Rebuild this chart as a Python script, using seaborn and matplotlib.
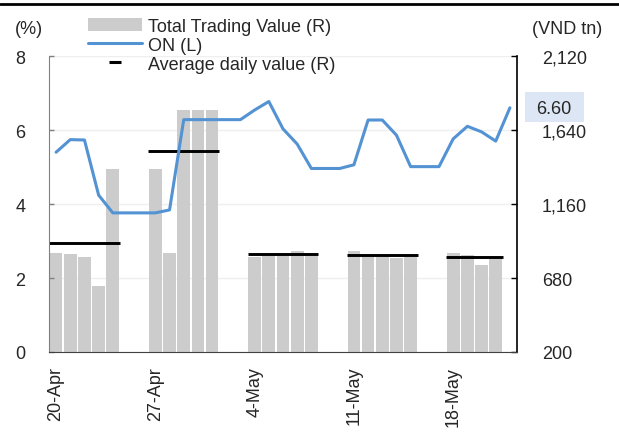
import numpy as np
import pandas as pd
import matplotlib
matplotlib.use("Agg")
import matplotlib.pyplot as plt
from matplotlib.lines import Line2D
from matplotlib.patches import Patch, Rectangle
import seaborn as sns

# ---------------- data ----------------
days = pd.date_range("2020-04-20", "2020-05-22", freq="D")
nan = np.nan
trading_value = [840, 834, 816, 628, 1387, nan, nan,
                 1387, 842, 1770, 1770, 1770, nan, nan,
                 814, 825, 821, 855, 825, nan, nan,
                 853, 814, 818, 810, 818, nan, nan,
                 842, 829, 764, 803, nan]
avg_daily = [905, 905, 905, 905, 905, nan, nan,
             1506, 1506, 1506, 1506, 1506, nan, nan,
             834, 834, 834, 834, 834, nan, nan,
             827, 827, 827, 827, 827, nan, nan,
             816, 816, 816, 816, nan]
on_rate = [5.40, 5.74, 5.73, 4.24, 3.76, 3.76, 3.76,
           3.76, 3.84, 6.28, 6.28, 6.28, 6.28, 6.28,
           6.54, 6.77, 6.03, 5.62, 4.96, 4.96, 4.96,
           5.06, 6.27, 6.27, 5.86, 5.01, 5.01, 5.01,
           5.76, 6.10, 5.95, 5.70, 6.60]
tick_labels = ["20-Apr", "27-Apr", "4-May", "11-May", "18-May"]
left_ticks = [0, 2, 4, 6, 8]
right_ticks = [200, 680, 1160, 1640, 2120]
last_label = "6.60"

idx = np.arange(len(days))
df = pd.DataFrame({"i": idx, "value": trading_value, "avg": avg_daily, "on": on_rate})

# ---------------- style ----------------
sns.set_style("white")
plt.rcParams["font.family"] = ["Liberation Sans", "DejaVu Sans"]
plt.rcParams["font.size"] = 13

W, H = 619, 439
fig = plt.figure(figsize=(W / 100, H / 100), dpi=100)
ax = fig.add_axes([49 / W, (H - 353) / H, (517 - 49) / W, (353 - 57) / H])
ax2 = ax.twinx()

# bars + averages on right axis
sns.barplot(data=df.dropna(subset=["value"]), x="i", y="value", ax=ax2,
            native_scale=True, color="#cccccc", saturation=1, width=0.9,
            errorbar=None, linewidth=0)

# weekly average: one continuous segment per run of equal consecutive values
av = df["avg"].to_numpy()
run_start = None
for k in range(len(av) + 1):
    cur = av[k] if k < len(av) else nan
    if run_start is not None and (np.isnan(cur) or cur != av[run_start]):
        ax2.hlines(av[run_start], run_start - 0.5, k - 0.5, color="black", lw=2.1, zorder=3)
        run_start = None
    if run_start is None and not np.isnan(cur):
        run_start = k

ax2.set_ylim(200, 2120)
ax2.set_yticks(right_ticks)
ax2.set_yticklabels([f"{v:,}" for v in right_ticks])
ax2.grid(axis="y", color="#efefef", lw=1)
ax2.set_axisbelow(True)
ax2.set_ylabel("")
ax2.set_xlabel("")

# line on left axis (drawn above the bars)
sns.lineplot(data=df, x="i", y="on", ax=ax, color="#5393d3", lw=2.2)
ax.set_zorder(ax2.get_zorder() + 1)
ax.patch.set_visible(False)
ax.set_ylim(0, 8)
ax.set_yticks(left_ticks)
ax.set_ylabel("")
ax.set_xlabel("")
ax.grid(False)

ax.set_xlim(-0.5, len(days) - 0.5)
ax.set_xticks([0, 7, 14, 21, 28])
ax.set_xticklabels(tick_labels, rotation=90, va="top", ha="center")
ax.set_xticks([-0.5, 6.5, 13.5, 20.5, 27.5], minor=True)
ax.tick_params(axis="x", which="major", length=0, pad=10)
ax.tick_params(axis="x", which="minor", length=4.5, width=1, direction="in", color="#404040")
ax.tick_params(axis="y", length=3.5, width=1, direction="in", color="#808080", pad=17)
ax2.tick_params(axis="y", length=4.5, width=1, direction="in", color="black", pad=18)
ax2.xaxis.set_visible(False)

for s in ["top", "right"]:
    ax.spines[s].set_visible(False)
ax.spines["left"].set_color("#808080")
ax.spines["bottom"].set_color("#404040")
for s in ["top", "left", "bottom"]:
    ax2.spines[s].set_visible(False)
ax2.spines["right"].set_color("black")
ax2.spines["right"].set_linewidth(1.2)

# legend
handles = [Patch(facecolor="#cccccc", edgecolor="none"),
           Line2D([], [], color="#5393d3", lw=2.2),
           Line2D([], [], color="black", marker="_", linestyle="None",
                  markersize=8, markeredgewidth=2.2)]
labels = ["Total Trading Value (R)", "ON (L)", "Average daily value (R)"]
fig.legend(handles, labels, loc="upper left", bbox_to_anchor=(88 / W, 1 - 19 / H),
           frameon=False, fontsize=13, handlelength=3.0, handletextpad=0.3,
           labelspacing=0.1, borderpad=0, borderaxespad=0)

# axis titles
fig.text(29 / W, 1 - 30 / H, "(%)", ha="center", va="center", fontsize=13)
fig.text(567 / W, 1 - 30 / H, "(VND tn)", ha="center", va="center", fontsize=13)

# last value label box
fig.add_artist(Rectangle((525 / W, 1 - 123 / H), 59 / W, 30 / H,
                         transform=fig.transFigure, facecolor="#dce6f4", edgecolor="none"))
fig.text(554 / W, 1 - 110 / H, last_label, ha="center", va="center", fontsize=13)

# top rule
fig.add_artist(Line2D([0, 1], [1 - 5 / H, 1 - 5 / H], transform=fig.transFigure,
                      color="black", lw=2))

fig.savefig("out.png", dpi=100)
